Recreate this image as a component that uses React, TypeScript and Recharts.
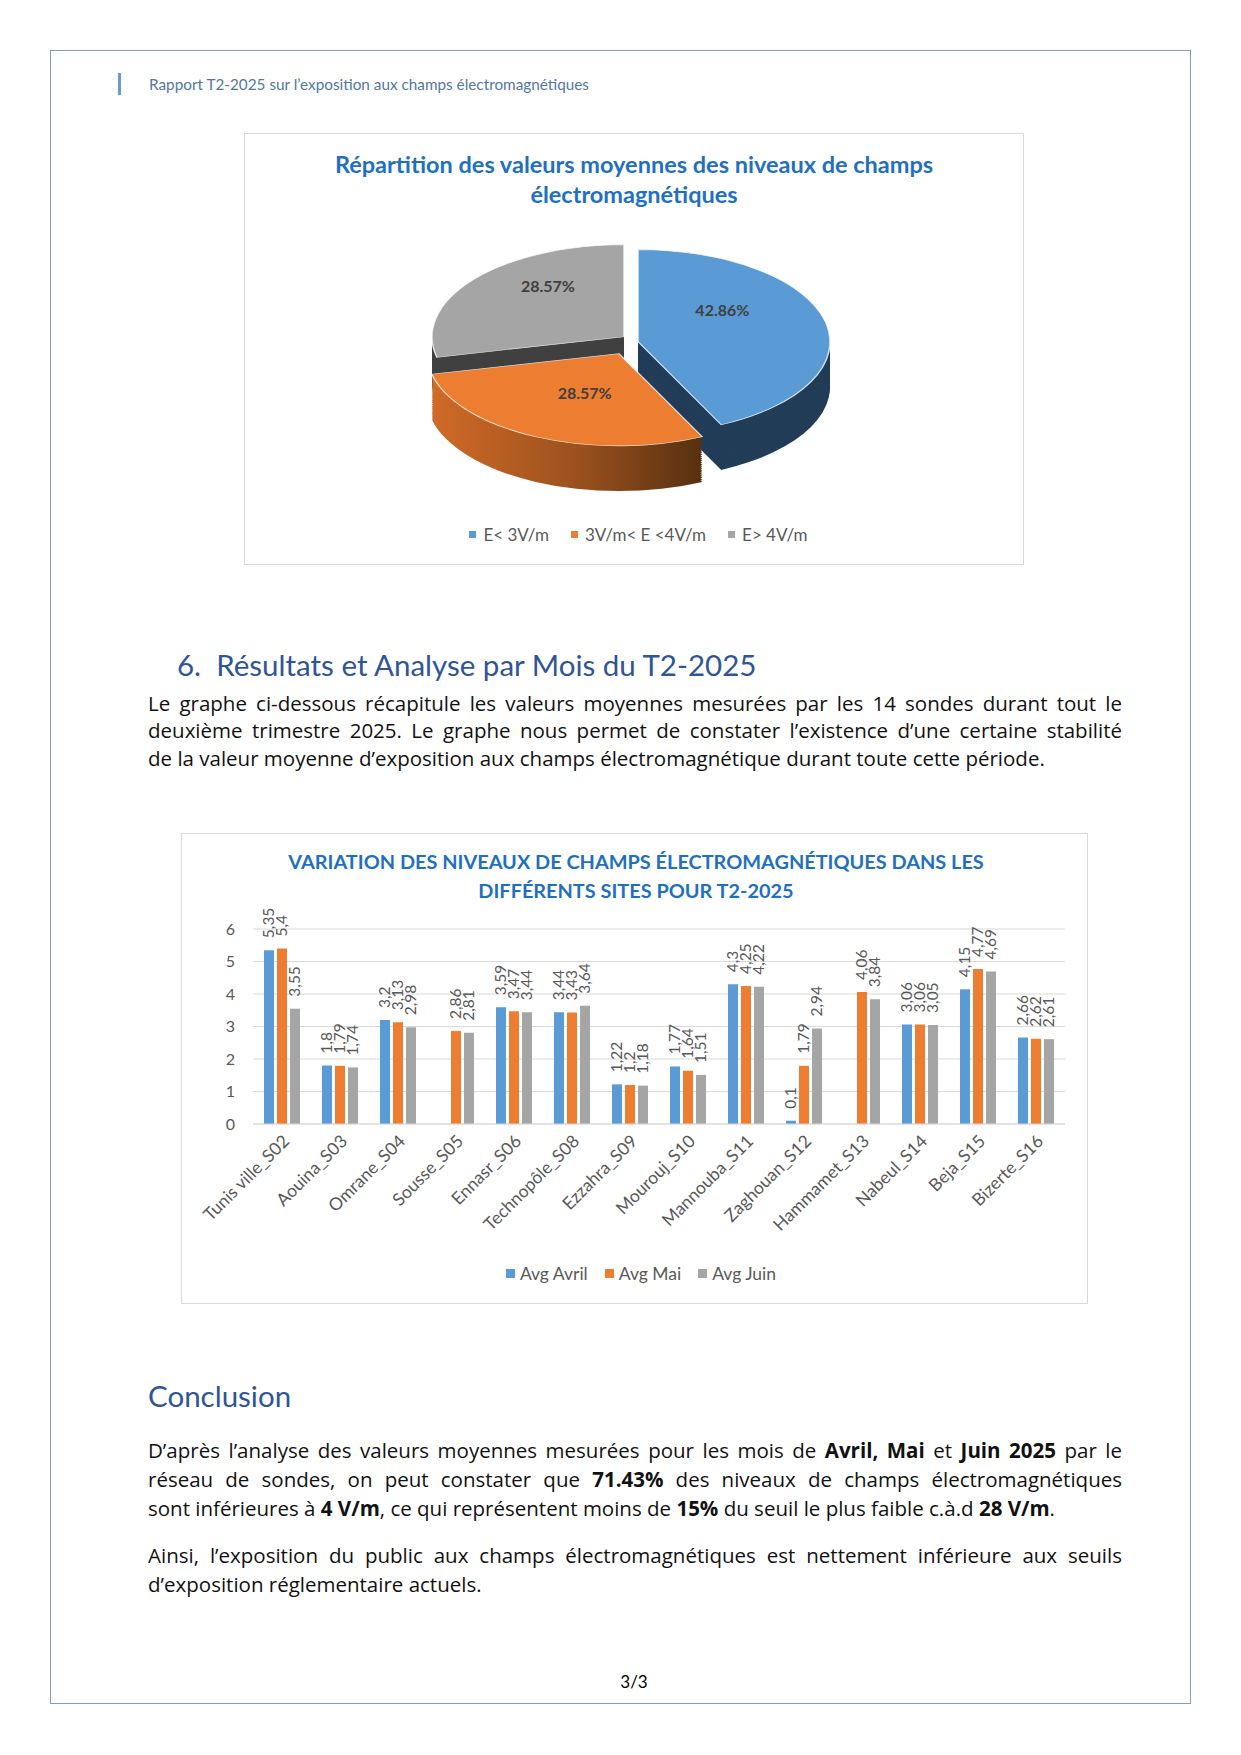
import React from 'react';
import { PieChart, Pie, Cell, BarChart, Bar, XAxis, YAxis, CartesianGrid, Legend, LabelList } from 'recharts';

// ---------- Data ----------
const pieLabels = ['E< 3V/m', '3V/m< E <4V/m', 'E> 4V/m'];
const pieValues = [42.86, 28.57, 28.57];
const pieTopColors = ['#5b9bd5', '#ed7d31', '#a5a5a5'];
const pieSideColors = ['#223d58', 'url(#orangeSide)', '#404040'];

const sites = [
  'Tunis ville_S02', 'Aouina_S03', 'Omrane_S04', 'Sousse_S05', 'Ennasr_S06', 'Technopôle_S08', 'Ezzahra_S09',
  'Mourouj_S10', 'Mannouba_S11', 'Zaghouan_S12', 'Hammamet_S13', 'Nabeul_S14', 'Beja_S15', 'Bizerte_S16',
];
const avgAvril: (number | null)[] = [5.35, 1.8, 3.2, null, 3.59, 3.44, 1.22, 1.77, 4.3, 0.1, null, 3.06, 4.15, 2.66];
const avgMai: (number | null)[] = [5.4, 1.79, 3.13, 2.86, 3.47, 3.43, 1.2, 1.64, 4.25, 1.79, 4.06, 3.06, 4.77, 2.62];
const avgJuin: (number | null)[] = [3.55, 1.74, 2.98, 2.81, 3.44, 3.64, 1.18, 1.51, 4.22, 2.94, 3.84, 3.05, 4.69, 2.61];
const seriesNames = ['Avg Avril', 'Avg Mai', 'Avg Juin'];
const seriesColors = ['#5b9bd5', '#ed7d31', '#a5a5a5'];
const yTicks = [0, 1, 2, 3, 4, 5, 6];

const pieData = pieLabels.map((name, i) => ({ name, value: pieValues[i] }));
const barData = sites.map((site, i) => ({ site, avril: avgAvril[i], mai: avgMai[i], juin: avgJuin[i] }));

// ---------- Styles ----------
const CAL = 'Lato, "Open Sans", sans-serif';
const BODY = '"Open Sans", "Noto Sans", sans-serif';
const GRAY = '#595959';

// pie geometry (unscaled chart coords, chart squashed vertically by S)
const S = 0.48;
const R = 192;
const PW = 480;
const PCX = 240;
const PCY = 232;
const DEPTH = 94;
const STEP = 4;
const explode = [
  { dx: 10, dy: 1 },
  { dx: -9, dy: 13 },
  { dx: -4, dy: -4 },
];
// label nudges in screen px
const labelNudge = [
  { dx: -13, dy: -22 },
  { dx: 9, dy: -4 },
  { dx: 2, dy: -21 },
];
const layers: number[] = [];
for (let k = DEPTH; k >= 0; k -= STEP) layers.push(k);

const RAD = Math.PI / 180;

function makePieLabel(idx: number) {
  return (props: any) => {
    if (props.index !== idx) return null;
    const { cx, cy, midAngle, outerRadius, value } = props;
    const r = outerRadius * 0.52;
    const x = cx + r * Math.cos(-midAngle * RAD) + labelNudge[idx].dx;
    const y = cy + r * Math.sin(-midAngle * RAD) + labelNudge[idx].dy / S;
    return (
      <text
        transform={`translate(${x},${y}) scale(1,${1 / S})`}
        textAnchor="middle"
        dominantBaseline="central"
        fill="#404040"
        fontFamily={CAL}
        fontWeight={700}
        fontSize={16}
      >
        {`${Number(value).toFixed(2)}%`}
      </text>
    );
  };
}

function Pie3D() {
  const sides: React.ReactNode[] = [];
  layers.forEach((k) => {
    pieData.forEach((_, i) => {
      sides.push(
        <Pie
          key={`side-${i}-${k}`}
          data={pieData}
          dataKey="value"
          cx={PCX + explode[i].dx}
          cy={PCY + explode[i].dy / S + k}
          outerRadius={R}
          startAngle={90}
          endAngle={-270}
          stroke="none"
          isAnimationActive={false}
          legendType="none"
        >
          {pieData.map((d, j) => (
            <Cell key={d.name} fill={j === i ? pieSideColors[i] : 'transparent'} stroke="none" />
          ))}
        </Pie>,
      );
    });
  });
  const tops = pieData.map((_, i) => (
    <Pie
      key={`top-${i}`}
      data={pieData}
      dataKey="value"
      cx={PCX + explode[i].dx}
      cy={PCY + explode[i].dy / S}
      outerRadius={R}
      startAngle={90}
      endAngle={-270}
      isAnimationActive={false}
      labelLine={false}
      label={makePieLabel(i)}
    >
      {pieData.map((d, j) => (
        <Cell
          key={d.name}
          fill={j === i ? pieTopColors[i] : 'transparent'}
          stroke={j === i ? 'rgba(255,255,255,0.8)' : 'none'}
          strokeWidth={1.5}
        />
      ))}
    </Pie>
  ));
  return (
    <div style={{ position: 'absolute', left: 623 - PCX, top: 338 - PCY * S, transform: `scaleY(${S})`, transformOrigin: 'top left' }}>
      <PieChart width={PW} height={560}>
        <defs>
          <linearGradient id="orangeSide" x1="0" y1="0" x2="1" y2="0">
            <stop offset="0%" stopColor="#d06b27" />
            <stop offset="55%" stopColor="#9a501e" />
            <stop offset="100%" stopColor="#56300f" />
          </linearGradient>
        </defs>
        {sides}
        {tops}
      </PieChart>
    </div>
  );
}

function XTick(props: any) {
  const { x, y, payload } = props;
  const ax = x + 4;
  const ay = y + 14;
  return (
    <text x={ax} y={ay} transform={`rotate(-45, ${ax}, ${ay})`} textAnchor="end" dy="0.35em" fill={GRAY} fontSize={17.5} fontFamily={CAL}>
      {payload.value}
    </text>
  );
}

function BarValueLabel(props: any) {
  const { x, y, width, value } = props;
  if (value === null || value === undefined) return null;
  const cx = Number(x) + Number(width) / 2;
  const ty = Number(y) - 12;
  return (
    <text x={cx} y={ty} transform={`rotate(-90, ${cx}, ${ty})`} textAnchor="start" dy="0.35em" fill={GRAY} fontSize={15.5} fontFamily={CAL}>
      {String(value).replace('.', ',')}
    </text>
  );
}

function BarLegend() {
  return (
    <div style={{ display: 'flex', justifyContent: 'center', alignItems: 'center', height: 24, paddingLeft: 36, fontFamily: CAL, fontSize: 17.5, color: GRAY }}>
      {seriesNames.map((n, i) => (
        <div key={n} style={{ display: 'flex', alignItems: 'center', marginRight: i < 2 ? 17 : 0 }}>
          <span style={{ display: 'inline-block', width: 9, height: 9, background: seriesColors[i], marginRight: 5 }} />
          <span>{n}</span>
        </div>
      ))}
    </div>
  );
}

function Bars() {
  return (
    <div style={{ position: 'absolute', left: 181, top: 833 }}>
      <BarChart width={907} height={471} data={barData} margin={{ top: 96, right: 23, left: 0, bottom: 19 }} barSize={10} barGap={3}>
        <CartesianGrid vertical={false} stroke="#d9d9d9" />
        <XAxis dataKey="site" interval={0} tick={<XTick />} tickLine={false} tickSize={0} tickMargin={0} axisLine={{ stroke: '#d9d9d9' }} height={137} />
        <YAxis domain={[0, 6]} ticks={yTicks} width={72} axisLine={false} tickLine={false} tickSize={0} tickMargin={18} tick={{ fill: GRAY, fontSize: 16, fontFamily: CAL }} />
        <Legend verticalAlign="bottom" content={<BarLegend />} />
        <Bar dataKey="avril" name={seriesNames[0]} fill={seriesColors[0]} isAnimationActive={false}>
          <LabelList dataKey="avril" content={<BarValueLabel />} />
        </Bar>
        <Bar dataKey="mai" name={seriesNames[1]} fill={seriesColors[1]} isAnimationActive={false}>
          <LabelList dataKey="mai" content={<BarValueLabel />} />
        </Bar>
        <Bar dataKey="juin" name={seriesNames[2]} fill={seriesColors[2]} isAnimationActive={false}>
          <LabelList dataKey="juin" content={<BarValueLabel />} />
        </Bar>
      </BarChart>
    </div>
  );
}

type Seg = { t: string; b?: boolean };
function Line({ top, segs, last }: { top: number; segs: Seg[]; last?: boolean }) {
  return (
    <div
      style={{
        position: 'absolute', left: 148, width: 974, top: top - 15, height: 30, lineHeight: '30px',
        fontFamily: BODY, fontSize: 20.5, color: '#111', textAlign: last ? 'left' : 'justify',
        textAlignLast: last ? 'left' : 'justify', whiteSpace: 'nowrap', letterSpacing: 0,
      } as React.CSSProperties}
    >
      {segs.map((s, i) => (s.b ? <b key={i}>{s.t}</b> : <span key={i}>{s.t}</span>))}
    </div>
  );
}

export default function App() {
  return (
    <div style={{ position: 'absolute', left: 0, top: 0, width: 1241, height: 1755, background: '#fff', fontFamily: CAL }}>
      {/* page border */}
      <div style={{ position: 'absolute', left: 50, top: 50, width: 1141, height: 1654, border: '1.5px solid #7f9fc2', boxSizing: 'border-box' }} />
      {/* header */}
      <div style={{ position: 'absolute', left: 118, top: 73, width: 3, height: 22, background: '#6b9bd2' }} />
      <div style={{ position: 'absolute', left: 149, top: 74, fontSize: 15.3, color: '#52779f', fontFamily: CAL, lineHeight: '20px', whiteSpace: 'nowrap' }}>
        Rapport T2-2025 sur l’exposition aux champs électromagnétiques
      </div>

      {/* pie frame */}
      <div style={{ position: 'absolute', left: 244, top: 133, width: 780, height: 432, border: '1px solid #d9d9d9', boxSizing: 'border-box' }} />
      <div style={{ position: 'absolute', left: 244, width: 780, top: 149, textAlign: 'center', fontFamily: CAL, fontWeight: 700, fontSize: 23.5, lineHeight: '30px', color: '#1f70c1' }}>
        Répartition des valeurs moyennes des niveaux de champs
        <br />
        électromagnétiques
      </div>
      <Pie3D />
      <div style={{ position: 'absolute', left: 244, width: 780, top: 523, height: 22, paddingLeft: 9, boxSizing: 'border-box', display: 'flex', justifyContent: 'center', alignItems: 'center', fontFamily: CAL, fontSize: 17, color: GRAY }}>
        {pieLabels.map((n, i) => (
          <div key={n} style={{ display: 'flex', alignItems: 'center', marginRight: i < 2 ? 22 : 0 }}>
            <span style={{ display: 'inline-block', width: 7, height: 7, background: pieTopColors[i], marginRight: 7 }} />
            <span>{n}</span>
          </div>
        ))}
      </div>

      {/* section heading */}
      <div style={{ position: 'absolute', left: 177, top: 646, fontFamily: CAL, fontSize: 29.5, lineHeight: '38px', color: '#2f5597', whiteSpace: 'nowrap' }}>
        6.&nbsp;&nbsp;Résultats et Analyse par Mois du T2-2025
      </div>
      <Line top={703} segs={[{ t: 'Le graphe ci-dessous récapitule les valeurs moyennes mesurées par les 14 sondes durant tout le' }]} />
      <Line top={730} segs={[{ t: 'deuxième trimestre 2025. Le graphe nous permet de constater l’existence d’une certaine stabilité' }]} />
      <Line top={758} last segs={[{ t: 'de la valeur moyenne d’exposition aux champs électromagnétique durant toute cette période.' }]} />

      {/* bar frame */}
      <div style={{ position: 'absolute', left: 181, top: 833, width: 907, height: 471, border: '1px solid #d9d9d9', boxSizing: 'border-box' }} />
      <div style={{ position: 'absolute', left: 181, width: 910, top: 847, textAlign: 'center', fontFamily: CAL, fontWeight: 700, fontSize: 19.9, lineHeight: '29px', color: '#1f70c1' }}>
        VARIATION DES NIVEAUX DE CHAMPS ÉLECTROMAGNÉTIQUES DANS LES
        <br />
        DIFFÉRENTS SITES POUR T2-2025
      </div>
      <Bars />

      {/* conclusion */}
      <div style={{ position: 'absolute', left: 148, top: 1377, fontFamily: CAL, fontSize: 29.5, lineHeight: '38px', color: '#2f5597' }}>Conclusion</div>
      <Line top={1450} segs={[{ t: 'D’après l’analyse des valeurs moyennes mesurées pour les mois de ' }, { t: 'Avril, Mai', b: true }, { t: ' et ' }, { t: 'Juin 2025', b: true }, { t: ' par le' }]} />
      <Line top={1479} segs={[{ t: 'réseau de sondes, on peut constater que ' }, { t: '71.43%', b: true }, { t: ' des niveaux de champs électromagnétiques' }]} />
      <Line top={1508} last segs={[{ t: 'sont inférieures à ' }, { t: '4 V/m', b: true }, { t: ', ce qui représentent moins de ' }, { t: '15%', b: true }, { t: ' du seuil le plus faible c.à.d ' }, { t: '28 V/m', b: true }, { t: '.' }]} />
      <Line top={1555} segs={[{ t: 'Ainsi, l’exposition du public aux champs électromagnétiques est nettement inférieure aux seuils' }]} />
      <Line top={1584} last segs={[{ t: 'd’exposition réglementaire actuels.' }]} />

      {/* page number */}
      <div style={{ position: 'absolute', left: 584, width: 100, top: 1671, textAlign: 'center', fontFamily: CAL, fontSize: 17, lineHeight: '22px', color: '#000' }}>3/3</div>
    </div>
  );
}
